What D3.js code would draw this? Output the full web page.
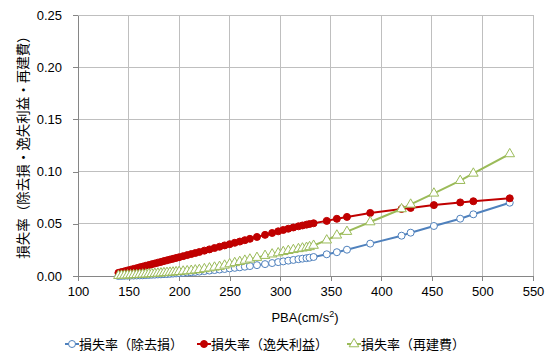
<!DOCTYPE html>
<html>
<head>
<meta charset="utf-8">
<script src="https://cdn.jsdelivr.net/npm/d3@7"></script>
<style>
  body { margin: 0; background: #fff; }
  svg text { font-family: "Liberation Sans", "Noto Sans CJK JP", sans-serif; fill: #000; }
</style>
</head>
<body>
<svg id="chart" width="554" height="354"></svg>
<script>
// PBA (cm/s²) of each evaluated case
const pba = [140, 143, 146, 149, 152, 155, 158, 161, 164, 167, 170, 173, 176, 179, 182, 185, 188, 191, 194, 197,
  200, 204, 208, 212, 216, 220, 225, 230, 235, 240, 245, 250, 255, 260, 265, 270, 277, 285, 292, 298,
  303, 308, 313, 318, 322, 326, 329, 333, 346, 356, 366, 389, 420, 429, 452, 478, 491, 527];

// 損失率（除去損）
const lossRemoval = [0.0000, 0.0001, 0.0002, 0.0003, 0.0004, 0.0004, 0.0005, 0.0006, 0.0007, 0.0009, 0.0010, 0.0012, 0.0013, 0.0015, 0.0016, 0.0018, 0.0019, 0.0021, 0.0023, 0.0025,
  0.0027, 0.0030, 0.0033, 0.0036, 0.0039, 0.0042, 0.0047, 0.0052, 0.0057, 0.0062, 0.0067, 0.0073, 0.0078, 0.0083, 0.0089, 0.0095, 0.0104, 0.0114, 0.0124, 0.0133,
  0.0140, 0.0147, 0.0154, 0.0161, 0.0166, 0.0171, 0.0175, 0.0182, 0.0208, 0.0228, 0.0252, 0.0310, 0.0386, 0.0415, 0.0479, 0.0549, 0.0591, 0.0702];

// 損失率（逸失利益）
const lossProfit = [0.0030, 0.0038, 0.0045, 0.0053, 0.0060, 0.0068, 0.0075, 0.0083, 0.0090, 0.0098, 0.0105, 0.0113, 0.0120, 0.0128, 0.0135, 0.0143, 0.0150, 0.0158, 0.0165, 0.0173,
  0.0180, 0.0190, 0.0200, 0.0210, 0.0220, 0.0230, 0.0243, 0.0255, 0.0268, 0.0280, 0.0293, 0.0305, 0.0318, 0.0330, 0.0343, 0.0356, 0.0374, 0.0394, 0.0412, 0.0428,
  0.0441, 0.0453, 0.0465, 0.0476, 0.0484, 0.0492, 0.0498, 0.0505, 0.0528, 0.0548, 0.0566, 0.0604, 0.0642, 0.0652, 0.0679, 0.0705, 0.0716, 0.0744];

// 損失率（再建費）
const lossRebuild = [0.0003, 0.0005, 0.0006, 0.0008, 0.0009, 0.0011, 0.0012, 0.0014, 0.0016, 0.0017, 0.0019, 0.0021, 0.0023, 0.0025, 0.0027, 0.0030, 0.0032, 0.0034, 0.0036, 0.0039,
  0.0041, 0.0045, 0.0048, 0.0052, 0.0056, 0.0060, 0.0068, 0.0075, 0.0083, 0.0090, 0.0102, 0.0115, 0.0126, 0.0137, 0.0149, 0.0160, 0.0176, 0.0195, 0.0209, 0.0220,
  0.0232, 0.0242, 0.0251, 0.0260, 0.0266, 0.0272, 0.0279, 0.0292, 0.0343, 0.0390, 0.0425, 0.0517, 0.0642, 0.0686, 0.0792, 0.0913, 0.0983, 0.1169];

const xTicks = [100, 150, 200, 250, 300, 350, 400, 450, 500, 550];
const yTicks = [0, 0.05, 0.10, 0.15, 0.20, 0.25];

const seriesNames = ["損失率（除去損）", "損失率（逸失利益）", "損失率（再建費）"];
const yTitle = "損失率（除去損・逸失利益・再建費）";

const series = [
  { name: seriesNames[0], values: lossRemoval, color: "#4f81bd", marker: "circle", fill: "#fff" },
  { name: seriesNames[1], values: lossProfit, color: "#c00000", marker: "circle", fill: "#c00000" },
  { name: seriesNames[2], values: lossRebuild, color: "#9bbb59", marker: "triangle", fill: "#fff" }
];

const svg = d3.select("#chart");
const plot = { left: 78, right: 533, top: 15, bottom: 276 };

const x = d3.scaleLinear().domain([100, 550]).range([plot.left, plot.right]);
const y = d3.scaleLinear().domain([0, 0.25]).range([plot.bottom, plot.top]);

// gridlines
const grid = svg.append("g");
grid.selectAll("line.h").data(yTicks).join("line")
  .attr("x1", plot.left).attr("x2", plot.right)
  .attr("y1", d => y(d)).attr("y2", d => y(d))
  .attr("stroke", "#bfbfbf").attr("stroke-width", 1).attr("shape-rendering", "crispEdges");
grid.selectAll("line.v").data(xTicks).join("line")
  .attr("x1", d => x(d)).attr("x2", d => x(d))
  .attr("y1", plot.top).attr("y2", plot.bottom)
  .attr("stroke", "#bfbfbf").attr("stroke-width", 1).attr("shape-rendering", "crispEdges");

// axes
const xAxis = svg.append("g").attr("transform", `translate(0,${plot.bottom})`)
  .call(d3.axisBottom(x).tickValues(xTicks).tickSize(5).tickSizeOuter(0).tickPadding(6).tickFormat(d3.format("d")));
const yAxis = svg.append("g").attr("transform", `translate(${plot.left},0)`)
  .call(d3.axisLeft(y).tickValues(yTicks).tickSize(5).tickSizeOuter(0).tickPadding(11).tickFormat(d3.format(".2f")));
[xAxis, yAxis].forEach(a => {
  a.select(".domain").attr("stroke", "#868686").attr("shape-rendering", "crispEdges");
  a.selectAll(".tick line").attr("stroke", "#868686").attr("shape-rendering", "crispEdges");
  a.selectAll(".tick text").attr("font-size", 13).attr("font-family", "Liberation Sans, sans-serif").attr("fill", "#000");
});

// axis titles
const xt = svg.append("text").attr("x", 305).attr("y", 322).attr("text-anchor", "middle").attr("font-size", 13);
xt.append("tspan").text("PBA(cm/s");
xt.append("tspan").attr("dy", -5).attr("font-size", 9).text("2");
xt.append("tspan").attr("dy", 5).text(")");

svg.append("text")
  .attr("transform", `translate(28,144) rotate(-90)`)
  .attr("text-anchor", "middle").attr("font-size", 13.5)
  .attr("font-family", "Noto Sans CJK JP, sans-serif")
  .text(yTitle);

// series lines and markers
const line = d3.line().x(d => x(d[0])).y(d => y(d[1]));
const tri = d3.symbol().type(d3.symbolTriangle).size(40);

function drawMarker(g, s, cx, cy) {
  if (s.marker === "circle") {
    g.append("circle").attr("cx", cx).attr("cy", cy).attr("r", 3.5)
      .attr("fill", s.fill).attr("stroke", s.color).attr("stroke-width", 1);
  } else {
    g.append("path").attr("d", tri()).attr("transform", `translate(${cx},${cy})`)
      .attr("fill", s.fill).attr("stroke", s.color).attr("stroke-width", 1);
  }
}

series.forEach(s => {
  const pts = pba.map((p, i) => [p, s.values[i]]);
  const g = svg.append("g");
  g.append("path").datum(pts).attr("d", line)
    .attr("fill", "none").attr("stroke", s.color).attr("stroke-width", 2);
  pts.forEach(p => drawMarker(g, s, x(p[0]), y(p[1])));
});

// legend
const legendX = [65, 197, 347];
series.forEach((s, i) => {
  const g = svg.append("g");
  const lx = legendX[i], ly = 344;
  g.append("line").attr("x1", lx).attr("x2", lx + 14).attr("y1", ly).attr("y2", ly)
    .attr("stroke", s.color).attr("stroke-width", 2);
  drawMarker(g, s, lx + 7, ly);
  g.append("text").attr("x", lx + 14).attr("y", ly + 5).attr("font-size", 13)
    .attr("font-family", "Noto Sans CJK JP, sans-serif").text(s.name);
});
</script>
</body>
</html>
